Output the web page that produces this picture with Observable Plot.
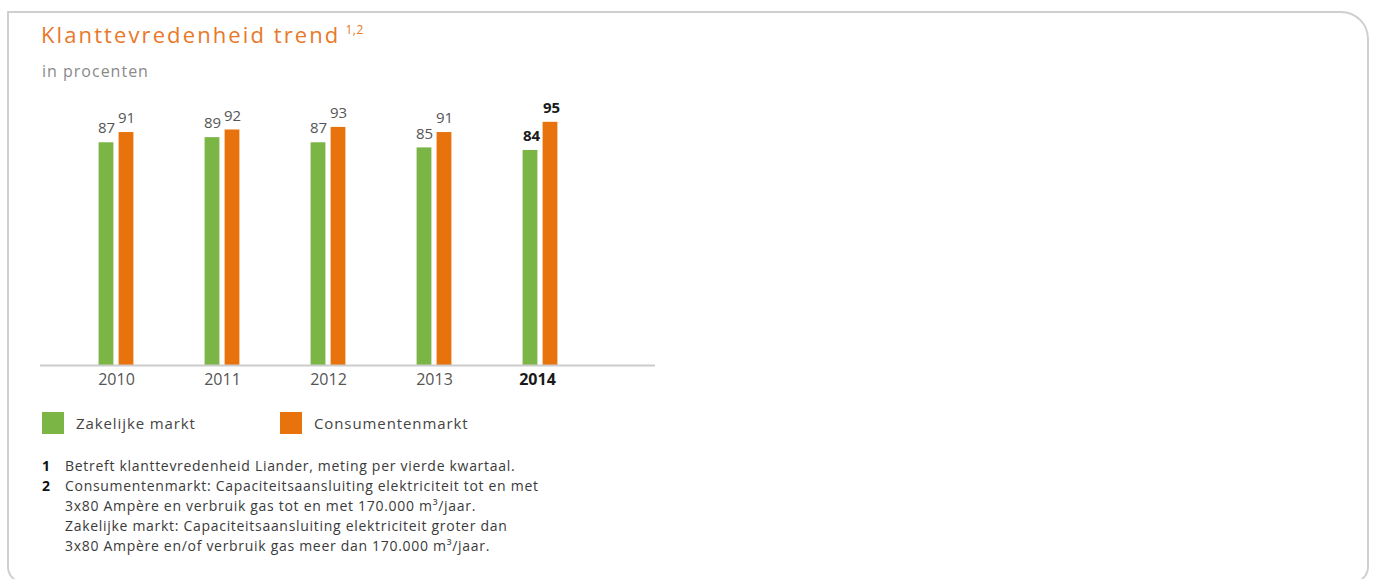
<!DOCTYPE html>
<html>
<head>
<meta charset="utf-8">
<script src="https://cdn.jsdelivr.net/npm/d3@7"></script>
<script src="https://cdn.jsdelivr.net/npm/@observablehq/plot@0.6"></script>
<style>
  html, body { margin: 0; padding: 0; background: #fff; }
  body { width: 1373px; height: 579px; position: relative; overflow: hidden; font-family: "Open Sans", sans-serif; }
  #frame { position: absolute; left: 7px; top: 11px; width: 1362px; height: 572px; box-sizing: border-box;
           border: 2.5px solid #cfcfcf; border-radius: 0 28px 16px 16px; }
  #title { position: absolute; left: 41px; top: 23px; font-size: 22px; line-height: 22px; color: #e8782a; letter-spacing: 2.1px; white-space: nowrap; }
  #title sup { font-size: 12px; letter-spacing: 0.5px; vertical-align: 0; position: relative; top: -9px; margin-left: 5px; }
  #subtitle { position: absolute; left: 42px; top: 63px; font-size: 16px; line-height: 16px; color: #8a8a8a; letter-spacing: 1px; white-space: nowrap; }
  #chart { position: absolute; left: 0; top: 90px; }
  #legend { position: absolute; left: 42px; top: 412px; display: flex; }
  .item { display: flex; align-items: center; font-size: 15px; color: #444; letter-spacing: 0.9px; }
  .sw { width: 22px; height: 22px; margin-right: 12px; }
  #notes { position: absolute; left: 42px; top: 456px; font-size: 14px; line-height: 20px; color: #3a3a3a; letter-spacing: 0.7px; }
  #notes .row { display: flex; white-space: nowrap; }
  #notes .n { width: 23px; font-weight: bold; color: #111; letter-spacing: 0; }
</style>
</head>
<body>
<div id="frame"></div>
<div id="title">Klanttevredenheid trend<sup>1,2</sup></div>
<div id="subtitle">in procenten</div>
<div id="chart"></div>
<div id="legend"></div>
<div id="notes"></div>
<script>
const years = ["2010", "2011", "2012", "2013", "2014"];
const zakelijkeMarkt = [87, 89, 87, 85, 84];
const consumentenMarkt = [91, 92, 93, 91, 95];
const highlightYear = "2014";
const seriesNames = ["Zakelijke markt", "Consumentenmarkt"];
const seriesColors = ["#7ab546", "#e8730c"];
const footnotes = [
  ["1", "Betreft klanttevredenheid Liander, meting per vierde kwartaal."],
  ["2", "Consumentenmarkt: Capaciteitsaansluiting elektriciteit tot en met"],
  ["", "3x80 Ampère en verbruik gas tot en met 170.000 m³/jaar."],
  ["", "Zakelijke markt: Capaciteitsaansluiting elektriciteit groter dan"],
  ["", "3x80 Ampère en/of verbruik gas meer dan 170.000 m³/jaar."]
];

const green = years.map((y, i) => ({year: y, value: zakelijkeMarkt[i]}));
const orange = years.map((y, i) => ({year: y, value: consumentenMarkt[i]}));
const isHi = d => d.year === highlightYear;
const notHi = d => d.year !== highlightYear;

const chart = Plot.plot({
  width: 680,
  height: 300,
  marginLeft: 40,
  marginRight: 25,
  marginTop: 19,
  marginBottom: 25,
  style: {fontFamily: "'Open Sans', sans-serif", background: "transparent"},
  x: {domain: years, paddingInner: 0, paddingOuter: 0.3765, align: 0.274, axis: null},
  y: {domain: [0, 100], axis: null},
  marks: [
    Plot.barY(green, {x: "year", y: "value", fill: seriesColors[0], insetLeft: 35.6, insetRight: 55.6}),
    Plot.barY(orange, {x: "year", y: "value", fill: seriesColors[1], insetLeft: 55.6, insetRight: 35.6}),
    Plot.ruleY([0], {stroke: "#cccccc", strokeWidth: 2}),
    Plot.text(green.filter(notHi), {x: "year", y: "value", text: d => String(d.value), dx: -10, dy: -20, lineAnchor: "top", fontSize: 15, fill: "#555"}),
    Plot.text(orange.filter(notHi), {x: "year", y: "value", text: d => String(d.value), dx: 10, dy: -20, lineAnchor: "top", fontSize: 15, fill: "#555"}),
    Plot.text(green.filter(isHi), {x: "year", y: "value", text: d => String(d.value), dx: -9, dy: -20, lineAnchor: "top", fontSize: 15, fontWeight: "bold", fill: "#1a1a1a"}),
    Plot.text(orange.filter(isHi), {x: "year", y: "value", text: d => String(d.value), dx: 11, dy: -20, lineAnchor: "top", fontSize: 15, fontWeight: "bold", fill: "#1a1a1a"}),
    Plot.text(years.filter(y => y !== highlightYear), {x: d => d, frameAnchor: "bottom", lineAnchor: "top", dy: 8, fontSize: 16, fill: "#555"}),
    Plot.text(years.filter(y => y === highlightYear), {x: d => d, frameAnchor: "bottom", lineAnchor: "top", dy: 8, dx: -3, fontSize: 16, fontWeight: "bold", fill: "#1a1a1a"})
  ]
});
document.getElementById("chart").appendChild(chart);

const legend = document.getElementById("legend");
seriesNames.forEach((name, i) => {
  const item = document.createElement("div");
  item.className = "item";
  item.style.width = i === 0 ? "238px" : "auto";
  const sw = document.createElement("div");
  sw.className = "sw";
  sw.style.background = seriesColors[i];
  const label = document.createElement("span");
  label.textContent = name;
  item.appendChild(sw);
  item.appendChild(label);
  legend.appendChild(item);
});

const notes = document.getElementById("notes");
footnotes.forEach(([n, t]) => {
  const row = document.createElement("div");
  row.className = "row";
  const a = document.createElement("span");
  a.className = "n";
  a.textContent = n;
  const b = document.createElement("span");
  b.textContent = t;
  row.appendChild(a);
  row.appendChild(b);
  notes.appendChild(row);
});
</script>
</body>
</html>
